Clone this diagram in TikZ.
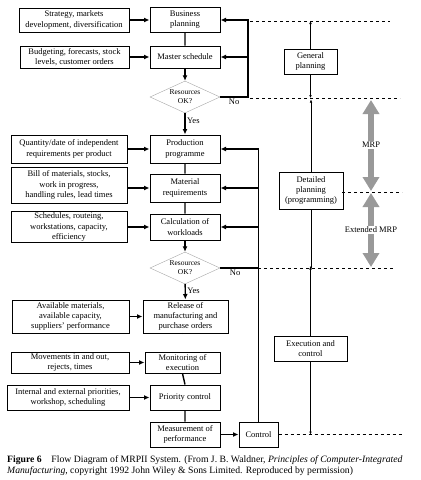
\documentclass[tikz,border=0pt]{standalone}
\usepackage{fontspec}
\setmainfont{Liberation Serif}
\usetikzlibrary{
  shapes.geometric, % Shape "diamond"
  arrows.meta,
  positioning,      % Function "of" (e.g. [left=of x])
}
\def\mygap{20pt}
\tikzset{
  x=1pt,
  y=-1pt,
  >={Latex[length=5.5pt,width=5pt]},
  box/.style={
    draw,
    line width=1pt,
    align=center,
    inner sep=1pt,
    minimum width=70pt,
    minimum height=25pt,
    font=\fontsize{8.5}{10.2}\selectfont
  },
  test/.style={
    draw=black!35,
    diamond,
    aspect=2.2,
    inner sep=0pt,
    align=center,
    minimum width=70pt,
    minimum height=32pt,
    font=\fontsize{7.5}{9}\selectfont
  },
  conn/.style={
    line width=1.4pt
  },
  thin conn/.style={
    line width=0.5pt,
    >={Latex[length=3pt,width=2.6pt]}
  },
  level/.style={
    dashed,
    line width=0.5pt
  },
  span/.style={
    draw=black!40,
    line width=6pt,
    {Triangle[length=14pt,width=16pt]}-{Triangle[length=14pt,width=16pt]}
  },
  lbl/.style={
    font=\fontsize{8.5}{10}\selectfont,
    inner sep=1.5pt
  }
}

\begin{document}
\begin{tikzpicture}
\useasboundingbox (0,0) rectangle (421,480);
% main column
\node[box]                      (bp)   at (185,20)  {Business\\planning};
\node[box,minimum height=22pt]  (ms)   at (185,57)  {Master schedule};
\node[test]                     (d1)   at (185,97)  {Resources\\OK?};
\node[box,minimum height=28pt]  (pp)   at (185,149) {Production\\programme};
\node[box,minimum height=28pt]  (mr)   at (185,188) {Material\\requirements};
\node[box,minimum height=26pt]  (cw)   at (185,227) {Calculation of\\workloads};
\node[test]                     (d2)   at (185,268) {Resources\\OK?};
\node[box,minimum width=85pt,minimum height=33pt] (ro) at (185.5,316.5)
                                        {Release of\\manufacturing and\\purchase orders};
\node[box,minimum width=75pt,minimum height=21pt] (me) at (182.5,362.5)
                                        {Monitoring of\\execution};
\node[box]                      (pc)   at (185,397.5) {Priority control};
\node[box]                      (mp)   at (185,434.5) {Measurement of\\performance};
\node[box,minimum width=39pt]   (ctl)  at (258.5,434.5) {Control};
% inputs
\node[box,minimum width=110pt,minimum height=24pt] (strat) [left=\mygap of bp]
  {Strategy, markets\\development, diversification};
\node[box,minimum width=109pt,minimum height=22pt] (budg)  [left=\mygap of ms]
  {Budgeting, forecasts, stock\\levels, customer orders};
\node[box,minimum width=116pt,minimum height=28pt] (qty)   [left=22pt of pp]
  {Quantity/date of independent\\requirements per product};
\node[box,minimum width=116pt,minimum height=36pt] (bom)   [left=22pt of mr,yshift=3pt]
  {Bill of materials, stocks,\\work in progress,\\handling rules, lead times};
\node[box,minimum width=116pt,minimum height=31pt] (sched) [left=22pt of cw]
  {Schedules, routeing,\\workstations, capacity,\\efficiency};
\node[box,minimum width=117pt,minimum height=33pt] (avail) [left=13pt of ro]
  {Available materials,\\available capacity,\\suppliers' performance};
\node[box,minimum width=118pt,minimum height=21pt] (move)  [left=15pt of me]
  {Movements in and out,\\rejects, times};
\node[box,minimum width=122pt]                     (prio)  [left=\mygap of pc]
  {Internal and external priorities,\\workshop, scheduling};
% planning levels
\node[box,draw,line width=0.6pt,minimum width=53pt] (gp) at (310.5,61.5) {General\\planning};
\node[box,draw,line width=0.6pt,minimum width=64pt,minimum height=37pt] (dp) at (311,190.5)
  {Detailed\\planning\\(programming)};
\node[box,draw,line width=0.6pt,minimum width=73pt] (ec) at (310.5,348.5) {Execution and\\control};
\coordinate (fb1)  at (248,97);
\coordinate (fb2)  at (258,268);
\coordinate (lv1a) at (250,21);   \coordinate (lv1b) at (390,21);
\coordinate (lv2a) at (250,98);   \coordinate (lv2b) at (400,98);
\coordinate (lv3a) at (342,192);  \coordinate (lv3b) at (402,192);
\coordinate (lv4a) at (258,268);  \coordinate (lv4b) at (393,268);
\coordinate (lv5b) at (402,434.5);
\coordinate (mrpa) at (371,100);  \coordinate (mrpb) at (371,191);
\coordinate (xmra) at (371,193);  \coordinate (xmrb) at (371,267);

\path[->,conn] (strat) edge (bp)
               (budg)  edge (ms)
               (qty)   edge (pp)
               (bom.east |- mr) edge (mr)
               (sched) edge (cw)
               (avail) edge (ro)
               (move)  edge (me)
               (prio)  edge (pc)
               (mp)    edge (ctl)
               (ms)    edge (d1)
               (cw)    edge (d2);
\draw[->,conn] (d1) -- node[lbl,right,pos=0.35]{Yes} (pp);
\draw[->,conn] (d2) -- node[lbl,right,pos=0.45]{Yes} (ro);
\draw[conn] (bp) -- (ms)  (pp) -- (mr) -- (cw)
            (ro) -- (me |- ro.south) (me |- me.south) -- (pc |- pc.north) (pc) -- (mp);
% feedback loops
\draw[->,conn] (d1.east) -- node[lbl,below]{No} (fb1) |- (bp.east);
\draw[->,conn] (fb1 |- ms.east) -- (ms.east);
\draw[conn] (d2.east) -- node[lbl,below,xshift=-4pt]{No} (fb2);
\draw[->,conn] (ctl.north) |- (pp.east);
\draw[->,conn] (ctl.north |- mr.east) -- (mr.east);
\draw[->,conn] (ctl.north |- cw.east) -- (cw.east);
% levels
\draw[level] (lv1a) -- (lv1b)
             (lv2a) -- (lv2b)
             (lv3a) -- (lv3b)
             (lv4a) -- (lv4b)
             (ctl.east) -- (lv5b);
\draw[->,thin conn] (gp) -- (gp |- lv1a);
\draw[->,thin conn] (gp) -- (gp |- lv2a);
\draw[->,thin conn] (dp) -- ([yshift=-1.5pt]dp |- lv2a);
\draw[->,thin conn] (dp) -- ([yshift=-1.5pt]dp |- lv4a);
\draw[->,thin conn] (ec) -- ([yshift=1.5pt]ec |- lv4a);
\draw[->,thin conn] (ec) -- (ec |- lv5b);
\draw[span] (mrpa) -- (mrpb);
\draw[span] (xmra) -- (xmrb);
\node[lbl,fill=white] (mrp) at (371,145) {MRP};
\node[lbl,fill=white] (xmrp) at (371,230) {Extended MRP};
% caption
\node[anchor=north west,align=left,inner sep=0pt,font=\fontsize{9.7}{11}\selectfont]
  (cap) at (7,455)
  {\textbf{Figure 6}\quad Flow Diagram of MRPII System. (From J. B. Waldner, \textit{Principles of Computer-Integrated}\\
   \textit{Manufacturing}, copyright 1992 John Wiley \& Sons Limited. Reproduced by permission)};
\end{tikzpicture}
\end{document}
